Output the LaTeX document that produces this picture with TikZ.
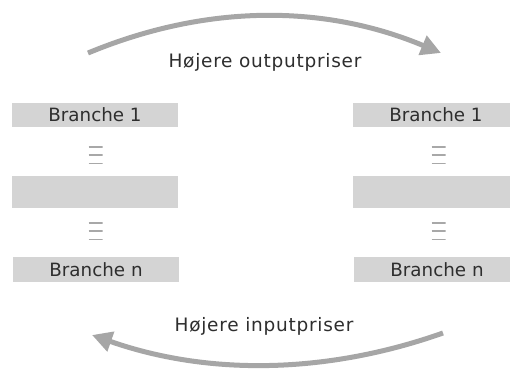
\documentclass[tikz,border=0pt]{standalone}
\usepackage{fontspec}
\setmainfont{DejaVu Sans}
\newfontfamily\labelfont[LetterSpace=4]{DejaVu Sans}
\usetikzlibrary{arrows.meta,calc}
\definecolor{boxgray}{HTML}{D4D4D4}
\definecolor{txt}{HTML}{2E2E2E}
\definecolor{arrgray}{HTML}{A6A6A6}
\definecolor{eqgray}{HTML}{A8A8A8}
\tikzset{
  branchbox/.style={fill=boxgray, draw=none, minimum width=166bp, inner sep=0pt,
    text=txt, font=\fontsize{18.3bp}{20bp}\selectfont, anchor=center},
  thin box/.style={branchbox, minimum height=24.5bp},
  thick box/.style={branchbox, minimum height=32bp},
  eqmark/.style={minimum width=14bp, minimum height=17bp, inner sep=0pt,
    path picture={
      \draw[eqgray, line width=2bp]
        (path picture bounding box.north west) -- (path picture bounding box.north east)
        ($(path picture bounding box.north west)!0.5!(path picture bounding box.south west)$) --
        ($(path picture bounding box.north east)!0.5!(path picture bounding box.south east)$)
        (path picture bounding box.south west) -- (path picture bounding box.south east);
    }},
  flowlabel/.style={text=txt, font=\fontsize{18.5bp}{20bp}\labelfont, inner sep=0pt},
  mainarc/.style={arrgray, line width=5bp, -{Triangle[length=20bp,width=20bp]}},
}
\begin{document}
\begin{tikzpicture}[x=1bp,y=-1bp]
\useasboundingbox (0,0) rectangle (510,369);
\clip (0,0) rectangle (510,369);
% left column
\node[thin box]  (l1) at (95,115) {Branche 1};
\node[eqmark]    (le1) at (95.5,155) {};
\node[thick box] (lm) at (95,192) {};
\node[eqmark]    (le2) at (95.5,231) {};
\node[thin box]  (ln) at (96,269.5) {Branche n};
% right column
\node[thin box]  (r1) at (436,115) {Branche 1};
\node[eqmark]    (re1) at (438.5,155) {};
\node[thick box] (rm) at (436,192) {};
\node[eqmark]    (re2) at (438.5,231) {};
\node[thin box]  (rn) at (437,269.5) {Branche n};
% labels
\node[flowlabel] (top) at (265,62) {Højere outputpriser};
\node[flowlabel] (bot) at (264,326) {Højere inputpriser};
% arcs
\coordinate (ts) at (88,53);
\coordinate (te) at (441,53);
\coordinate (bs) at (443,333);
\coordinate (be) at (92,335);
\draw[mainarc] (ts) .. controls (206,4) and (324,4) .. (te);
\draw[mainarc] (bs) .. controls (324,375) and (206,375) .. (be);
\end{tikzpicture}
\end{document}
